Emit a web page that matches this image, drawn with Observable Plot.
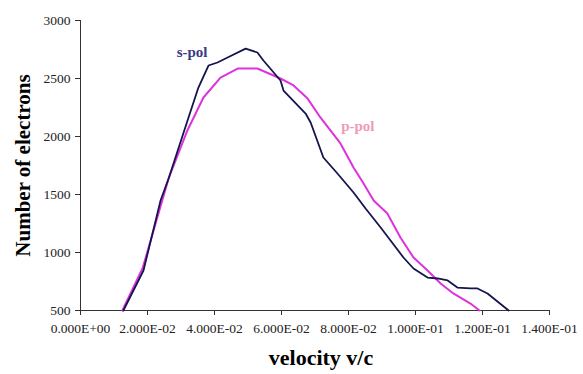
<!DOCTYPE html>
<html>
<head>
<meta charset="utf-8">
<script src="https://cdn.jsdelivr.net/npm/d3@7"></script>
<script src="https://cdn.jsdelivr.net/npm/@observablehq/plot@0.6"></script>
<style>
  html, body { margin: 0; padding: 0; background: #fff; }
  #chart svg, #chart svg text { font-family: "Liberation Serif", "Times New Roman", serif !important; }
</style>
</head>
<body>
<div id="chart"></div>
<script>
const xTicks = [0, 0.02, 0.04, 0.06, 0.08, 0.10, 0.12, 0.14];
const yTicks = [500, 1000, 1500, 2000, 2500, 3000];

const sPolX = [0.0128, 0.0188, 0.0239, 0.0263, 0.0322, 0.0352, 0.0382, 0.0409, 0.0439, 0.0493, 0.0528, 0.0546, 0.0597, 0.0606, 0.0672, 0.0687, 0.0725, 0.0767, 0.0815, 0.0851, 0.0896, 0.0964, 0.0994, 0.1036, 0.1066, 0.1096, 0.1125, 0.1164, 0.1185, 0.1215, 0.1278];
const sPolY = [500, 845, 1448, 1638, 2160, 2422, 2612, 2638, 2681, 2758, 2724, 2655, 2483, 2396, 2198, 2121, 1819, 1681, 1517, 1379, 1215, 957, 862, 784, 776, 759, 698, 690, 690, 647, 500];

const pPolX = [0.0125, 0.0186, 0.0263, 0.0319, 0.0367, 0.0418, 0.0469, 0.0528, 0.0597, 0.0636, 0.0678, 0.0716, 0.0746, 0.0776, 0.0815, 0.0845, 0.0875, 0.0916, 0.0955, 0.0994, 0.1036, 0.1075, 0.1113, 0.1164, 0.1191];
const pPolY = [500, 870, 1638, 2052, 2336, 2508, 2586, 2586, 2500, 2440, 2327, 2164, 2052, 1940, 1733, 1595, 1448, 1336, 1129, 957, 845, 733, 647, 560, 500];

const sPol = sPolX.map((x, i) => ({x, y: sPolY[i]}));
const pPol = pPolX.map((x, i) => ({x, y: pPolY[i]}));

function fmtE(v) {
  const s = v.toExponential(3).toUpperCase(); // e.g. 2.000E-2
  const m = s.match(/^(.*)E([+-])(\d+)$/);
  return m[1] + "E" + m[2] + m[3].padStart(2, "0");
}

const chart = Plot.plot({
  width: 583,
  height: 374,
  marginLeft: 80,
  marginRight: 34,
  marginTop: 20,
  marginBottom: 64,
  style: {fontFamily: "Liberation Serif", fontSize: "13.5px", color: "#222", background: "#fff"},
  x: {domain: [0, 0.14]},
  y: {domain: [500, 3000]},
  marks: [
    Plot.axisX({ticks: xTicks, tickFormat: fmtE, tickSize: 5, tickPadding: 8, label: null, stroke: "#333"}),
    Plot.axisY({ticks: yTicks, tickFormat: d => String(d), tickSize: 5, tickPadding: 5, label: null, stroke: "#333"}),
    Plot.ruleX([0], {stroke: "#333"}),
    Plot.ruleY([500], {stroke: "#333"}),
    Plot.line(pPol, {x: "x", y: "y", stroke: "#dd33dd", strokeWidth: 2}),
    Plot.line(sPol, {x: "x", y: "y", stroke: "#14144e", strokeWidth: 1.8}),
    Plot.text(["s-pol"], {x: 0.0287, y: 2724, text: d => d, fill: "#3a3a86", fontWeight: "bold", fontSize: 15, textAnchor: "start"}),
    Plot.text(["p-pol"], {x: 0.0778, y: 2090, text: d => d, fill: "#ee9ab8", fontWeight: "bold", fontSize: 15, textAnchor: "start"}),
    Plot.text(["velocity v/c"], {frameAnchor: "bottom", dy: 54, dx: 6, text: d => d, fontWeight: "bold", fontSize: 22, fill: "#000"}),
    Plot.text(["Number of electrons"], {frameAnchor: "left", dx: -57, rotate: -90, textAnchor: "middle", text: d => d, fontWeight: "bold", fontSize: 21, fill: "#000"})
  ]
});
document.getElementById("chart").append(chart);
</script>
</body>
</html>
